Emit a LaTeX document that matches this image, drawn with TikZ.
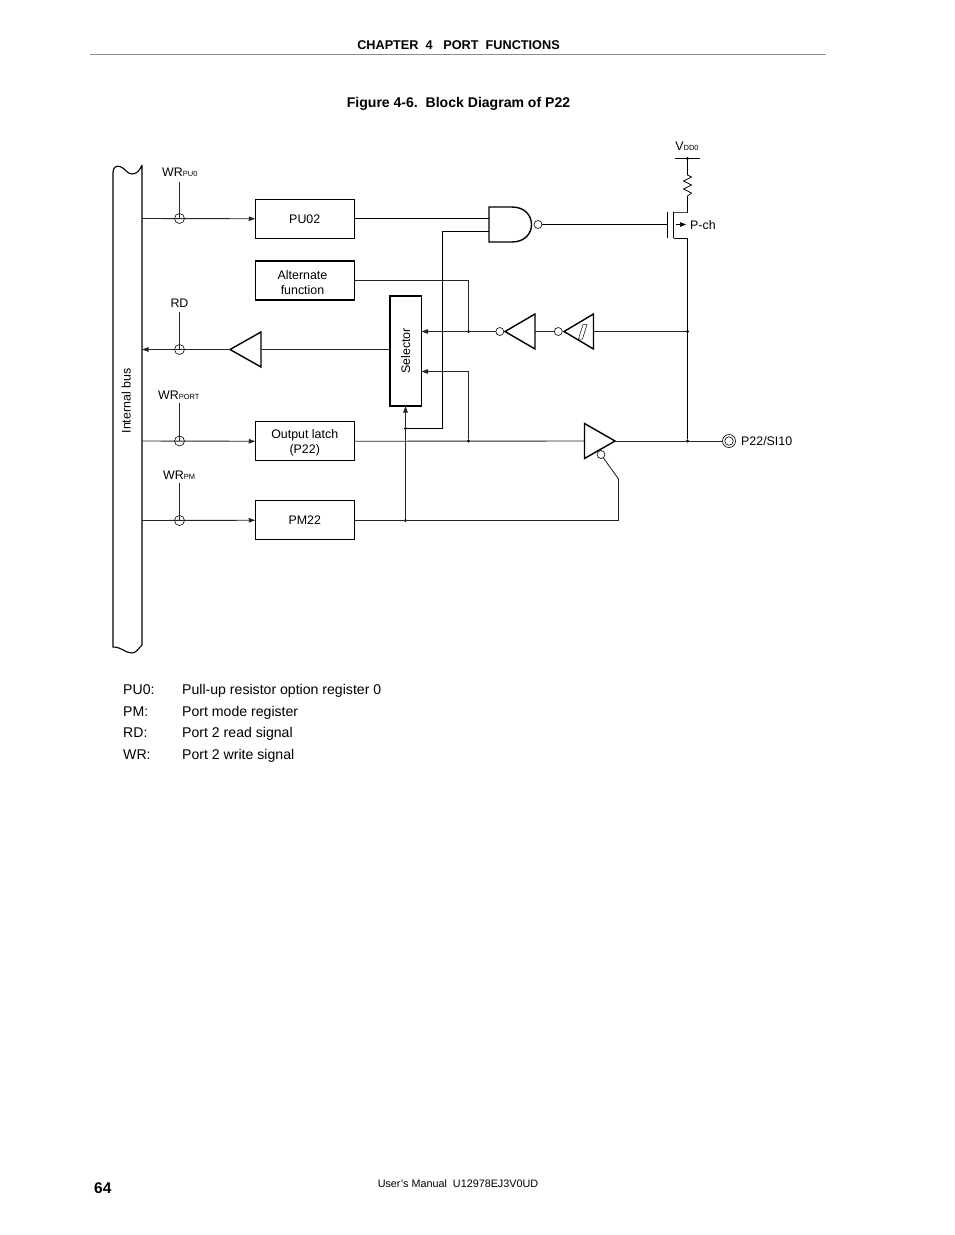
\documentclass[tikz,border=0pt]{standalone}
\usepackage{fontspec}
\setmainfont{Liberation Sans}
\usetikzlibrary{arrows.meta}
\tikzset{
  x=1pt,y=-1pt,
  wire/.style={line width=0.9pt,black!85},
  heavy/.style={line width=1pt,black},
  arr/.style={-{Triangle[length=6.5pt,width=4.5pt]}},
  box/.style={draw,line width=1.3pt,minimum width=99pt,minimum height=39pt,inner sep=0pt,outer sep=0pt,align=center,font=\fontsize{12.4}{15}\selectfont},
  gate/.style={draw,line width=1.4pt,line join=miter},
  bubble/.style={circle,draw,fill=white,line width=0.6pt,minimum size=8pt,inner sep=0pt,outer sep=0pt},
  latchc/.style={circle,draw,line width=0.6pt,minimum size=10pt,inner sep=0pt,outer sep=0pt},
  dot/.style={circle,fill=black,minimum size=3.2pt,inner sep=0pt,outer sep=0pt},
  lbl/.style={inner sep=0pt,anchor=base,font=\fontsize{12.4}{15}\selectfont},
  lbll/.style={inner sep=0pt,anchor=base west,font=\fontsize{12.4}{15}\selectfont},
  legend/.style={inner sep=0pt,anchor=base west,font=\fontsize{14.1}{17}\selectfont},
}
\newcommand{\subtxt}[1]{{\fontsize{7.5}{9}\selectfont #1}}
\newcommand{\lineat}[2]{\raisebox{#1}[0pt][0pt]{#2}}
\begin{document}
\begin{tikzpicture}
\useasboundingbox (0,0) rectangle (954,1235);
% header
\node[inner sep=0pt,anchor=base,font=\fontsize{12.7}{15}\selectfont\bfseries] (hdr) at (458.5,49) {CHAPTER\ \ 4\ \ \ PORT\ \ FUNCTIONS};
\coordinate (ruleL) at (90,54.5); \coordinate (ruleR) at (826,54.5);
\draw[line width=0.8pt,black!45] (ruleL) -- (ruleR);
\node[inner sep=0pt,anchor=base,font=\fontsize{14.05}{17}\selectfont\bfseries] (fig) at (458.5,107) {Figure 4-6.\ \ Block Diagram of P22};

% internal bus
\draw[line width=1.1pt] (142,165) -- (142,645) .. controls (138,649) and (136,653) .. (132,653)
  .. controls (125,653) and (122,647) .. (113,647) -- (113,172)
  .. controls (113,167) and (117,165.5) .. (120,166.5) .. controls (125,168) and (127,174) .. (132,174) .. controls (137,174) and (140,170) .. (142,165);
\node[lbl,rotate=90] (ibus) at (130.5,401) {Internal bus};
\coordinate (busPU) at (142,218.5);
\coordinate (busRD) at (142,349.5);
\coordinate (busPORT) at (142,441);
\coordinate (busPM) at (142,520.5);

% boxes
\node[box] (pu) at (304.75,218.75) {PU02};
\node[box] (alt) at (304.75,280.5) {\lineat{-6pt}{Alternate\kern4.5pt}\\\lineat{-6pt}{function\kern4.5pt}};
\node[box] (ol) at (304.75,441.25) {\lineat{-4.25pt}{Output latch}\\\lineat{-4.25pt}{(P22)}};
\node[box] (pm) at (304.75,520.25) {PM22};
\node[draw,line width=1.6pt,minimum width=31.5pt,minimum height=110pt,inner sep=0pt,outer sep=0pt] (sel) at (405.75,351) {};
\node[lbl,rotate=90] (seltxt) at (410,351) {Selector};

% write/read strobes
\node[latchc] (cPU) at (179.5,218.5) {};
\node[latchc] (cRD) at (179.5,349.5) {};
\node[latchc] (cPORT) at (179.5,441) {};
\node[latchc] (cPM) at (179.5,520.5) {};
\coordinate (tPU) at (179.5,182);
\coordinate (tRD) at (179.5,312);
\coordinate (tPORT) at (179.5,403);
\coordinate (tPM) at (179.5,483);
\draw[line width=0.7pt,black!85] (tPU) -- (cPU.center);
\draw[line width=0.7pt,black!85] (tRD) -- (cRD.center);
\draw[line width=0.7pt,black!85] (tPORT) -- (cPORT.center);
\draw[line width=0.7pt,black!85] (tPM) -- (cPM.center);
\node[lbl,anchor=base west] (wrpu) at (162,176) {WR\subtxt{PU0}};
\node[lbl] (rdl) at (179.5,307) {RD};
\node[lbl,anchor=base west] (wrport) at (158,399) {WR\subtxt{PORT}};
\node[lbl,anchor=base west] (wrpm) at (163,479) {WR\subtxt{PM}};

\draw[wire,arr] (busPU) -- (pu.west);
\draw[wire,arr] (busPORT) -- (ol.west);
\draw[wire,arr] (busPM) -- (pm.west);

% read buffer
\coordinate (rbT) at (230,349.5);
\coordinate (rbB) at (261,349.5);
\draw[gate] (rbT) -- (261,332) -- (261,367) -- cycle;
\draw[wire] (rbB) -- (sel.west |- rbB);
\draw[wire,arr] (rbT) -- (busRD);

% NAND
\coordinate (a1) at (489,218.5);
\coordinate (a2) at (489,231.5);
\draw[gate] (489,207) -- (512,207) .. controls (538,207) and (538,242) .. (512,242) -- (489,242) -- cycle;
\node[bubble] (nb) at (538,224.5) {};
\draw[heavy] (pu.east |- a1) -- (a1);

% feedback wires to NAND and selector
\node[dot] (d428) at (405.5,428.5) {};
\draw[heavy] (a2) -- (442.5,231.5) -- (442.5,428.5) -- (d428);
\coordinate (gateG) at (667.5,224.5);
\draw[heavy] (nb) -- (gateG);

% transistor
\draw[line width=1pt] (667.5,212) -- (667.5,238);
\draw[line width=1pt] (673.5,212) -- (673.5,238);
\coordinate (src) at (687.5,212.5);
\coordinate (drn) at (687.5,238.5);
\draw[line width=0.9pt,black!70] (673.5,212.5) -- (src);
\draw[line width=1pt] (673.5,238.5) -- (drn);
\coordinate (chL) at (676,224.5);
\coordinate (chR) at (686,224.5);
\draw[line width=0.7pt,-{Triangle[length=6pt,width=4.5pt]}] (chL) -- (chR);
\node[lbll] (pch) at (690,229) {P-ch};

% VDD and resistor
\coordinate (vL) at (675,158.5); \coordinate (vR) at (700,158.5);
\draw[line width=0.8pt] (vL) -- (vR);
\node[dot] (dv) at (687.5,158.5) {};
\node[lbl] (vdd) at (687,150) {V\subtxt{DD0}};
\draw[line width=0.7pt,line join=miter] (dv) -- (687.5,175) -- (691.5,177) -- (683.5,181) -- (691.5,185) -- (683.5,189) -- (691.5,193) -- (687.5,196) -- (src);

% alternate function
\node[dot] (d1) at (468.5,331.5) {};
\draw[wire] (alt.east |- 0,280.5) -- (468.5,280.5) -- (d1);

% inverters
\node[bubble] (ib1) at (499.8,331.5) {};
\draw[wire,arr] (ib1) -- (sel.east |- ib1);
\draw[gate] (505,331.5) -- (535,314) -- (535,349) -- cycle;
\coordinate (i1b) at (535,331.5);
\node[bubble] (ib2) at (558.3,331.5) {};
\draw[wire] (i1b) -- (ib2);
\draw[gate] (564,331.5) -- (593.5,314) -- (593.5,349) -- cycle;
\draw[line width=0.5pt] (578.5,339) -- (582.5,339) -- (587,324.5) -- (583,324.5) -- cycle;
\coordinate (i2b) at (593.5,331.5);
\node[dot] (d2) at (687.5,331.5) {};
\draw[wire] (i2b) -- (d2);

% pin rail
\node[dot] (d3) at (687.5,441) {};
\draw[heavy] (drn) -- (d3);

% output line
\node[dot] (d4) at (468.5,441) {};
\coordinate (bfI) at (584.5,441);
\coordinate (bfO) at (615,441);
\draw[wire] (ol.east) -- (bfI);
\draw[gate] (584.5,423.5) -- (615,441) -- (584.5,458.5) -- cycle;
\node[latchc,fill=white,minimum size=13pt,line width=0.6pt] (pad) at (729,441) {};
\node[circle,draw,line width=0.6pt,minimum size=8.5pt,inner sep=0pt] (padin) at (729,441) {};
\draw[wire] (bfO) -- (pad.west);
\node[lbll] (padl) at (741,445) {P22/SI10};

% selector lower input
\draw[wire,arr] (d4) -- (468.5,371.5) -- (sel.east |- 0,371.5);

% PM22 enable
\node[dot] (d5) at (405.5,520.5) {};
\node[bubble] (eb) at (601,454.5) {};
\coordinate (ebk) at (618.5,479);
\draw[wire] (pm.east |- d5) -- (618.5,520.5) -- (ebk) -- (eb);
\draw[wire,arr] (d5) -- (sel.south -| d5);

% legend
\node[legend] (l1a) at (123,694) {PU0:};
\node[legend] (l1b) at (182,694) {Pull-up resistor option register 0};
\node[legend] (l2a) at (123,716) {PM:};
\node[legend] (l2b) at (182,716) {Port mode register};
\node[legend] (l3a) at (123,737) {RD:};
\node[legend] (l3b) at (182,737) {Port 2 read signal};
\node[legend] (l4a) at (123,759) {WR:};
\node[legend] (l4b) at (182,759) {Port 2 write signal};

% footer
\node[inner sep=0pt,anchor=base west,font=\fontsize{15.5}{19}\selectfont\bfseries] (pg) at (94,1193) {64};
\node[inner sep=0pt,anchor=base,font=\fontsize{10.8}{14}\selectfont] (ft) at (458,1187.5) {User’s Manual\ \ U12978EJ3V0UD};
\end{tikzpicture}
\end{document}
